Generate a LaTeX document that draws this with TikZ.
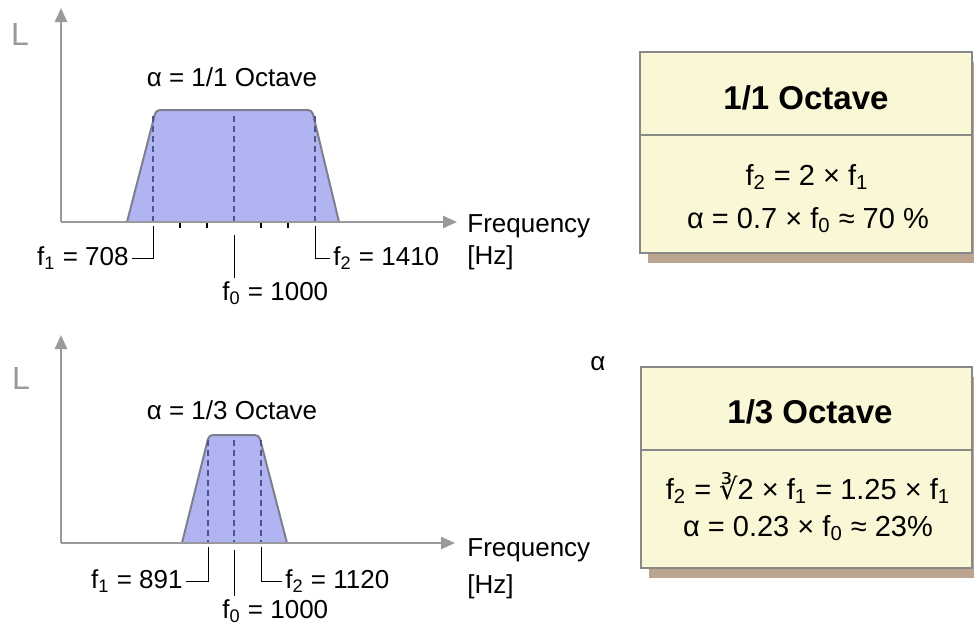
\documentclass[tikz,border=0pt]{standalone}
\usepackage{fontspec}
\setmainfont{Liberation Sans}
\newfontfamily\symfont{DejaVu Sans}
\usetikzlibrary{arrows.meta}
\definecolor{AxisGray}{HTML}{9A9A9A}
\definecolor{BandFill}{HTML}{B0B4F0}
\definecolor{BandLine}{HTML}{7E7E8E}
\definecolor{BandDash}{HTML}{4C5490}
\definecolor{BoxFill}{HTML}{FAF7D6}
\definecolor{BoxLine}{HTML}{888888}
\definecolor{BoxShade}{HTML}{BBA590}
\newcommand{\fsub}[1]{f\textsubscript{#1}}

\begin{document}
\begin{tikzpicture}[x=0.5pt,y=-0.5pt,>=Latex]
  \tikzset{
    axisline/.style={draw=AxisGray, line width=1.2pt, -{Triangle[length=7pt,width=6pt]}},
    band/.style={fill=BandFill, draw=BandLine, line width=1pt, rounded corners=2pt},
    centerdash/.style={draw=BandDash, dash pattern=on 3pt off 2pt, line width=0.6pt},
    leader/.style={draw=black, line width=0.5pt},
    axlabel/.style={font=\fontsize{13}{15}\selectfont, inner sep=1.5pt},
    lvl/.style={font=\fontsize{16}{18}\selectfont, text=AxisGray, inner sep=0pt},
    boxtitle/.style={font=\fontsize{16.5}{19}\selectfont\bfseries, inner sep=0pt},
    boxmath/.style={font=\fontsize{14.5}{17}\selectfont, inner sep=0pt}
  }
  \clip (0,0) rectangle (974,629);
  \fill[white] (0,0) rectangle (974,629);

  % 1/1 octave band
  \draw[band] (127,222) -- (156,110) -- (312,110) -- (339,222);
  \foreach \x in {153,234,315}{\draw[centerdash] (\x,116) -- (\x,222);}
  \foreach \x in {180,207,261,288}{\draw[line width=0.8pt] (\x,222) -- (\x,228);}
  \draw[axisline] (61,222) -- (61,8);
  \draw[axisline] (61,222) -- (457,222);
  \node[lvl] (lev1) at (20,34) {L};
  \node[axlabel] (oct1) at (232,77) {α = 1/1 Octave};
  \node[axlabel, anchor=west] (freq1) at (464,226) {Frequency};
  \node[axlabel, anchor=west] (hz1) at (464,258) {[Hz]};
  \node[axlabel, anchor=east] (f1a) at (132,258) {\fsub{1} = 708};
  \node[axlabel, anchor=west] (f2a) at (330,258) {\fsub{2} = 1410};
  \node[axlabel, anchor=west] (f0a) at (219,293) {\fsub{0} = 1000};
  \coordinate (t1a) at (153,226);
  \coordinate (t0a) at (234,235);
  \coordinate (t2a) at (315,226);
  \draw[leader] (t1a) |- (f1a.east);
  \draw[leader] (t2a) |- (f2a.west);
  \draw[leader] (t0a) -- (t0a |- f0a.north);

  % 1/3 octave band
  \draw[band] (182,543) -- (209,435) -- (259,435) -- (287,543);
  \foreach \x in {208,234,261}{\draw[centerdash] (\x,440) -- (\x,543);}
  \draw[axisline] (61,543) -- (61,335);
  \draw[axisline] (61,543) -- (455,543);
  \node[lvl] (lev2) at (21,378) {L};
  \node[axlabel] (oct3) at (232,410) {α = 1/3 Octave};
  \node[axlabel, anchor=west] (freq3) at (464,550) {Frequency};
  \node[axlabel, anchor=west] (hz3) at (464,587) {[Hz]};
  \node[axlabel, anchor=east] (f1b) at (186,581) {\fsub{1} = 891};
  \node[axlabel, anchor=west] (f2b) at (282,581) {\fsub{2} = 1120};
  \node[axlabel, anchor=west] (f0b) at (219,611) {\fsub{0} = 1000};
  \coordinate (t1b) at (208,547);
  \coordinate (t0b) at (234,550);
  \coordinate (t2b) at (261,547);
  \draw[leader] (t1b) |- (f1b.east);
  \draw[leader] (t2b) |- (f2b.west);
  \draw[leader] (t0b) -- (t0b |- f0b.north);
  \node[axlabel] (stray) at (598,364) {α};

  % formula boxes
  \fill[BoxShade] (648,62) rectangle (984,263);
  \filldraw[fill=BoxFill, draw=BoxLine, line width=0.8pt] (640,52) rectangle (972,253);
  \draw[BoxLine, line width=0.8pt] (640,135) -- (972,135);
  \node[boxtitle] (ttl1) at (806,98) {1/1 Octave};
  \node[boxmath] (eq1a) at (807,177) {\fsub{2} = 2 × \fsub{1}};
  \node[boxmath] (eq1b) at (808,220) {α = 0.7 × \fsub{0} ≈ 70 \%};

  \fill[BoxShade] (649,377) rectangle (984,578);
  \filldraw[fill=BoxFill, draw=BoxLine, line width=0.8pt] (641,367) rectangle (972,568);
  \draw[BoxLine, line width=0.8pt] (641,450) -- (972,450);
  \node[boxtitle] (ttl3) at (810,412) {1/3 Octave};
  \node[boxmath] (eq3a) at (808,488) {\fsub{2} = {\symfont ∛}2 × \fsub{1} = 1.25 × \fsub{1}};
  \node[boxmath] (eq3b) at (808,528) {α = 0.23 × \fsub{0} ≈ 23\%};
\end{tikzpicture}
\end{document}
